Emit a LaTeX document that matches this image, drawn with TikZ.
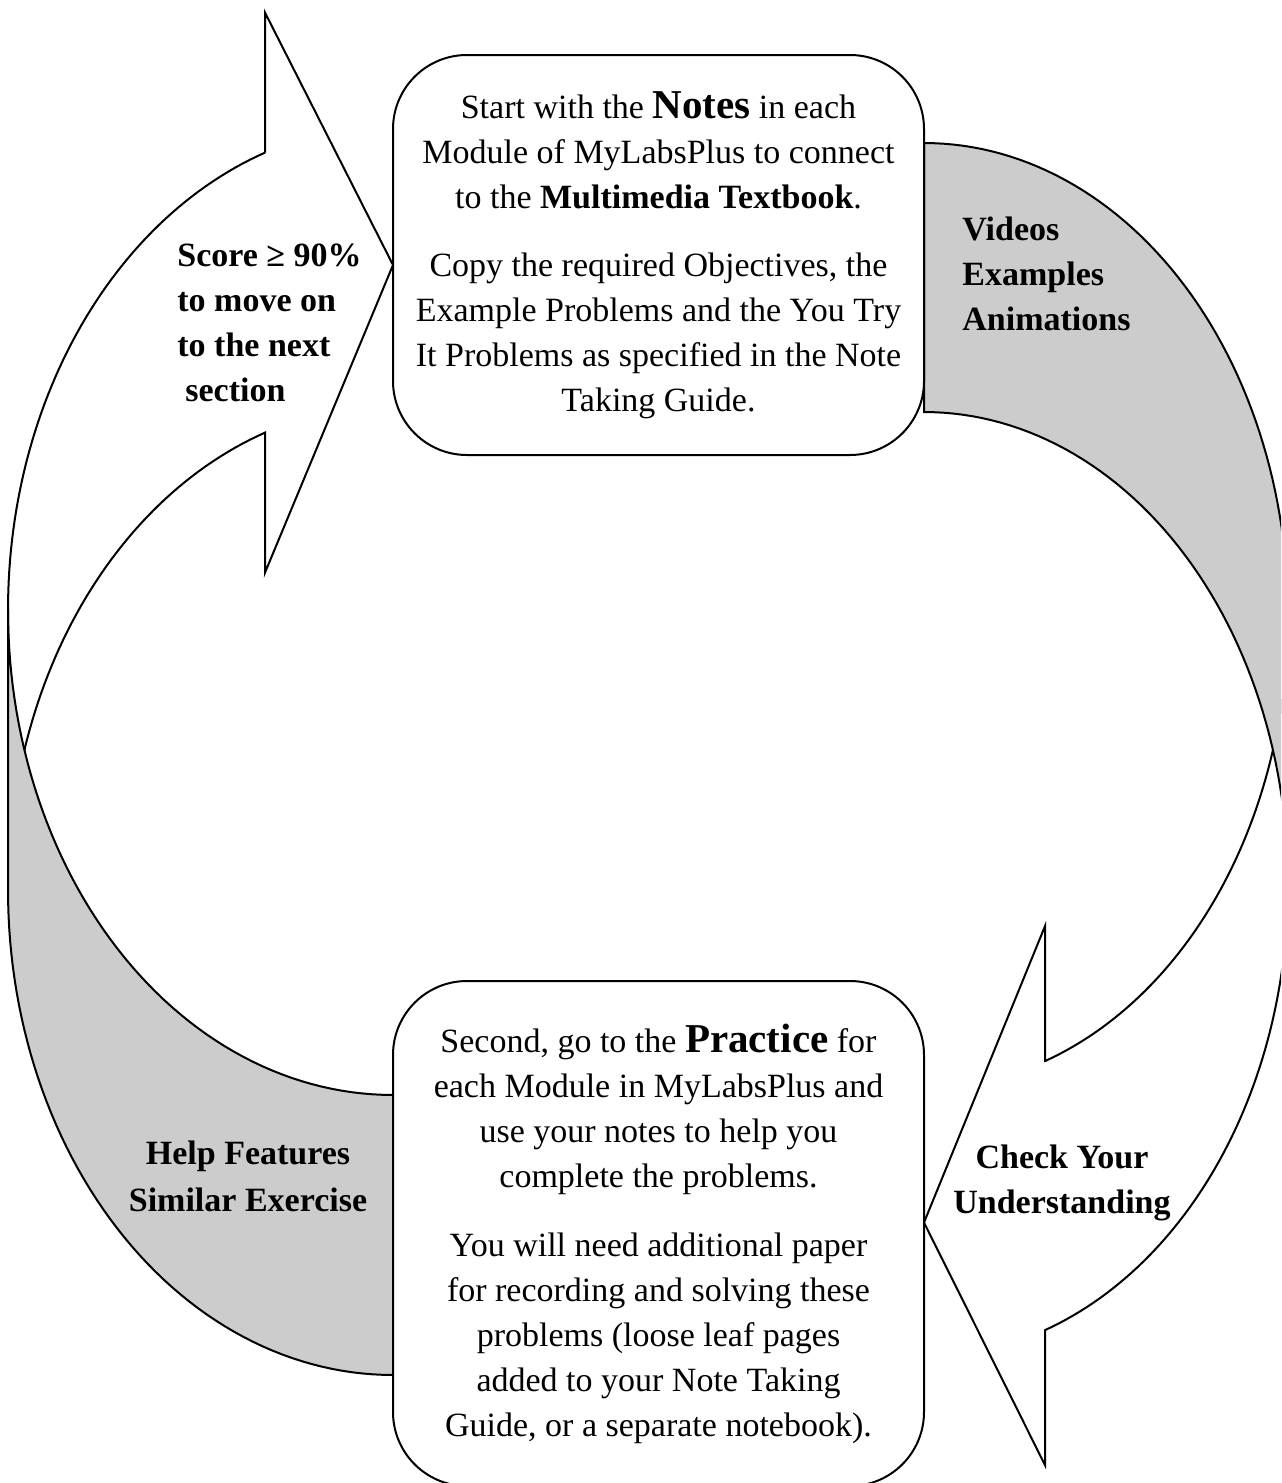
\documentclass[tikz,border=0pt]{standalone}
\usepackage{fontspec}
\setmainfont{Liberation Serif}
\definecolor{bandgray}{RGB}{204,204,204}
\begin{document}
\begin{tikzpicture}[x=0.5pt,y=-0.5pt,
  outline/.style={draw=black,line width=1pt,line join=miter},
  frontpart/.style={outline,fill=white},
  backpart/.style={outline,fill=bandgray},
  stepbox/.style={draw=black,line width=1pt,fill=white,rounded corners=37pt,inner sep=0pt,
     align=center,font=\fontsize{17}{22.5}\selectfont,minimum width=265.5pt},
  lbl/.style={font=\bfseries\fontsize{17}{22.5}\selectfont,inner sep=0pt}]
\useasboundingbox (0,0) rectangle (1281,1483);
\begin{scope}
\clip (0,0) rectangle (1281,1483);
% left curved arrow (front, white)
\path[frontpart] (393,265) -- (265,12.6) -- (265,152.6)
  -- plot[domain=250.6:180,variable=\t,samples=60] ({393+385*cos(\t)},{610+485*sin(\t)})
  -- plot[domain=180:250.6,variable=\t,samples=60] ({393+385*cos(\t)},{890+485*sin(\t)})
  -- (265,572.6) -- cycle;
% left curved arrow (back, gray)
\path[backpart] (393,1095)
  -- plot[domain=90:180,variable=\t,samples=60] ({393+385*cos(\t)},{610+485*sin(\t)})
  -- plot[domain=180:90,variable=\t,samples=60] ({393+385*cos(\t)},{890+485*sin(\t)})
  -- cycle;
% right curved arrow (front, white)
\path[frontpart] (924,1222.5) -- (1045,926.1) -- (1045,1061.1)
  -- plot[domain=70.58:0,variable=\t,samples=60] ({924+364*cos(\t)},{615.5+472.5*sin(\t)})
  -- plot[domain=0:70.58,variable=\t,samples=60] ({924+364*cos(\t)},{884.5+472.5*sin(\t)})
  -- (1045,1465.1) -- cycle;
% right curved arrow (back, gray)
\path[backpart] (924,143)
  -- plot[domain=-90:0,variable=\t,samples=60] ({924+364*cos(\t)},{615.5+472.5*sin(\t)})
  -- plot[domain=0:-90,variable=\t,samples=60] ({924+364*cos(\t)},{884.5+472.5*sin(\t)})
  -- cycle;
% boxes
\node[stepbox,minimum height=200pt] (notes) at (658.5,255)
  {Start with the {\fontsize{20.5}{22.5}\selectfont\bfseries Notes} in each\\
   Module of MyLabsPlus to connect\\
   to the \textbf{Multimedia Textbook}.\\[11.5pt]
   Copy the required Objectives, the\\
   Example Problems and the You Try\\
   It Problems as specified in the Note\\
   Taking Guide.};
\node[stepbox,minimum height=252.5pt] (practice) at (658.5,1233.5)
  {Second, go to the {\fontsize{20.5}{22.5}\selectfont\bfseries Practice} for\\
   each Module in MyLabsPlus and\\
   use your notes to help you\\
   complete the problems.\\[12pt]
   You will need additional paper\\
   for recording and solving these\\
   problems (loose leaf pages\\
   added to your Note Taking\\
   Guide, or a separate notebook).};
\end{scope}
% labels
\node[lbl,align=left,anchor=west] (score) at (177,322.5)
  {Score ≥ 90\%\\ to move on\\ to the next\\ \hspace*{4pt}section};
\node[lbl,align=left,anchor=west] (media) at (962,274)
  {Videos\\ Examples\\ Animations};
\node[lbl,align=center,font=\bfseries\fontsize{17}{23.5}\selectfont] (help) at (248,1176)
  {Help Features\\ Similar Exercise};
\node[lbl,align=center] (check) at (1062,1183)
  {Check Your\\ Understanding};
\end{tikzpicture}
\end{document}
